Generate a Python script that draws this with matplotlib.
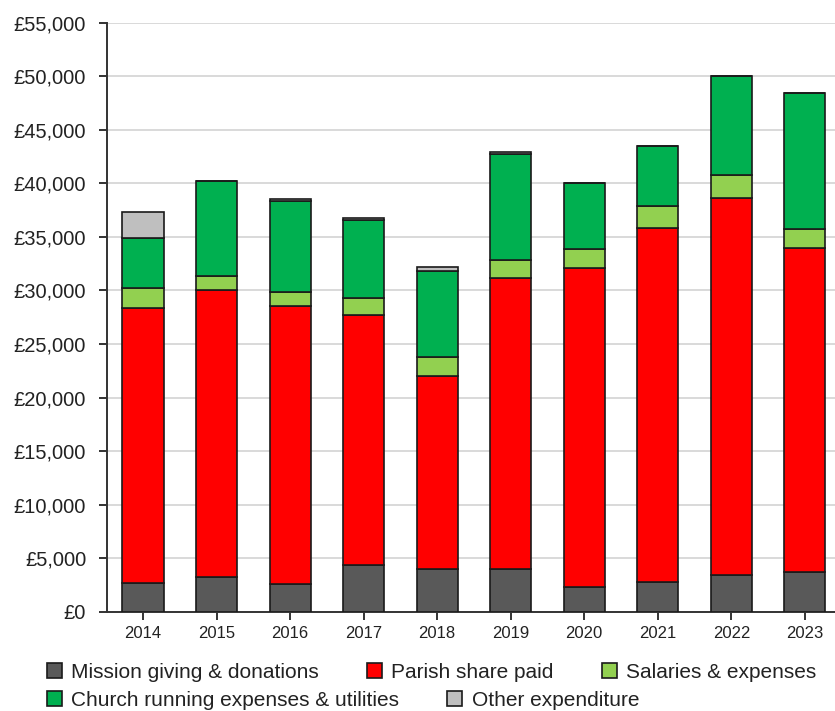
import matplotlib
matplotlib.use("Agg")
import matplotlib.pyplot as plt
import numpy as np
from matplotlib.ticker import FuncFormatter, MultipleLocator

plt.rcParams['font.family'] = ['Liberation Sans', 'DejaVu Sans']

years = ["2014", "2015", "2016", "2017", "2018", "2019", "2020", "2021", "2022", "2023"]

mission = [2700, 3250, 2550, 4350, 4000, 4000, 2350, 2750, 3450, 3750]
parish = [25700, 26800, 26000, 23350, 18000, 27150, 29700, 33100, 35150, 30250]
salaries = [1800, 1300, 1300, 1600, 1800, 1650, 1800, 2000, 2150, 1700]
running = [4700, 8850, 8500, 7250, 8000, 9950, 6200, 5650, 9300, 12700]
other = [2450, 0, 200, 200, 400, 200, 0, 0, 0, 0]

series = [
    ("Mission giving & donations", mission, "#595959"),
    ("Parish share paid", parish, "#ff0000"),
    ("Salaries & expenses", salaries, "#92d050"),
    ("Church running expenses & utilities", running, "#00b050"),
    ("Other expenditure", other, "#bfbfbf"),
]

W, H = 835, 711
fig = plt.figure(figsize=(W / 100, H / 100), dpi=100)
ax = fig.add_axes([107 / W, (H - 611.7) / H, (W - 107) / W, (611.7 - 22.7) / H])

x = np.arange(len(years))
bottom = np.zeros(len(years))
handles = []
for label, vals, color in series:
    vals = np.array(vals, dtype=float)
    bars = ax.bar(x, vals, width=0.56, bottom=bottom, color=color,
                  edgecolor="#1a1a1a", linewidth=1.2, label=label, zorder=3)
    handles.append(bars)
    bottom += vals

ax.set_xlim(-0.49, 9.41)
ax.set_ylim(0, 55000)
ax.yaxis.set_major_locator(MultipleLocator(5000))
ax.yaxis.set_major_formatter(FuncFormatter(lambda v, p: f"£{int(v):,}"))
ax.set_xticks(x)
ax.set_xticklabels(years)

ax.grid(axis="y", color="#d9d9d9", linewidth=1.4, zorder=0)
ax.set_axisbelow(True)
for side in ("top", "right"):
    ax.spines[side].set_visible(False)
for side in ("left", "bottom"):
    ax.spines[side].set_color("#333333")
    ax.spines[side].set_linewidth(1.4)

ax.tick_params(axis="y", length=6, width=1.4, color="#333333", pad=9,
               labelsize=14.5, labelcolor="#222222")
ax.tick_params(axis="x", length=6, width=1.4, color="#333333", pad=4,
               labelsize=12, labelcolor="#222222")

common = dict(frameon=False, fontsize=15, handlelength=0.72, handleheight=0.72,
              handletextpad=0.45, columnspacing=2.3, borderpad=0, borderaxespad=0,
              loc="center left")
leg1 = fig.legend(handles[:3], [s[0] for s in series[:3]], ncol=3,
                  bbox_to_anchor=(47 / W, (H - 672) / H), **common)
leg2 = fig.legend(handles[3:], [s[0] for s in series[3:]], ncol=2,
                  bbox_to_anchor=(47 / W, (H - 700) / H), **common)
for leg in (leg1, leg2):
    for t in leg.get_texts():
        t.set_color("#222222")

fig.savefig("out.png", dpi=100)
